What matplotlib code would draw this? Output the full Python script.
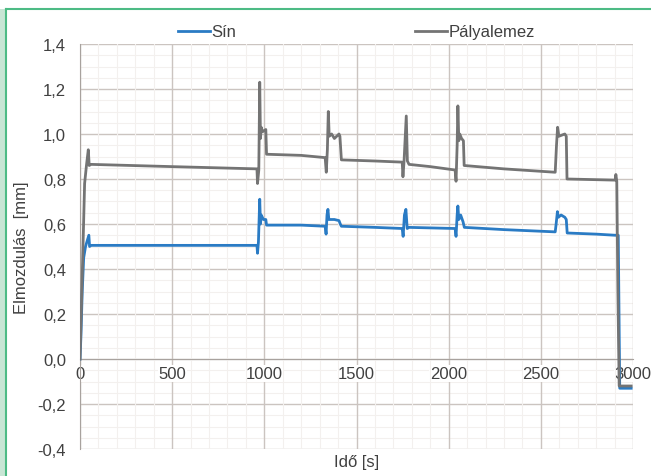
import matplotlib
matplotlib.use("Agg")
from matplotlib import pyplot as plt
from matplotlib.ticker import FuncFormatter, MultipleLocator
from matplotlib.patches import Rectangle
from matplotlib.lines import Line2D

plt.rcParams['font.family'] = ['Liberation Sans', 'DejaVu Sans']

# Pályalemez (gray)
t_palya = [0, 10, 25, 35, 45, 50, 60, 500, 960, 963, 970, 975, 979, 983, 990, 1008, 1012,
           1200, 1330, 1336, 1342, 1347, 1352, 1365, 1380, 1405, 1410, 1418, 1600, 1748, 1752,
           1758, 1770, 1776, 1785, 1900, 2035, 2040, 2046, 2050, 2055, 2060, 2070, 2080, 2084,
           2300, 2578, 2585, 2591, 2598, 2630, 2638, 2642, 2800, 2903, 2907, 2912, 2918, 2925, 2990]
y_palya = [0.0, 0.3, 0.78, 0.86, 0.93, 0.86, 0.865, 0.855, 0.845, 0.78, 0.84, 1.23, 0.98, 1.03, 1.01, 1.02, 0.91,
           0.905, 0.895, 0.83, 0.93, 1.10, 0.99, 1.0, 0.98, 1.0, 0.99, 0.885, 0.88, 0.875, 0.81,
           0.88, 1.08, 0.88, 0.865, 0.855, 0.84, 0.79, 0.95, 1.125, 0.97, 1.0, 0.98, 0.97, 0.86,
           0.845, 0.83, 0.95, 1.03, 0.99, 1.0, 0.99, 0.80, 0.797, 0.795, 0.82, 0.79, 0.3, -0.12, -0.12]

# Sín (blue)
t_sin = [0, 5, 12, 20, 30, 48, 52, 60, 960, 963, 968, 975, 979, 983, 995, 1008, 1012,
         1200, 1330, 1335, 1340, 1345, 1350, 1380, 1405, 1412, 1418, 1600, 1748, 1753,
         1760, 1768, 1775, 1785, 2035, 2040, 2046, 2050, 2055, 2065, 2078, 2085,
         2300, 2578, 2583, 2590, 2595, 2610, 2630, 2638, 2643, 2800, 2903, 2920, 2928, 2990]
y_sin = [0.0, 0.1, 0.3, 0.45, 0.5, 0.55, 0.5, 0.505, 0.505, 0.47, 0.52, 0.71, 0.6, 0.64, 0.62, 0.62, 0.595,
         0.595, 0.59, 0.555, 0.64, 0.665, 0.62, 0.62, 0.615, 0.6, 0.59, 0.585, 0.58, 0.545,
         0.64, 0.665, 0.58, 0.585, 0.58, 0.545, 0.64, 0.68, 0.62, 0.64, 0.61, 0.585,
         0.575, 0.565, 0.6, 0.655, 0.63, 0.64, 0.63, 0.62, 0.56, 0.555, 0.55, 0.55, -0.13, -0.13]

fs = 12
txt = '#404040'

fig = plt.figure(figsize=(6.51, 4.77), dpi=100)
ax = fig.add_axes([80/651, 1-450/477, 553/651, 405/477])

# green frame
fig.patches.append(Rectangle((0, 0), 5/651, 1-10/477, transform=fig.transFigure,
                             facecolor='#c8e6d5', edgecolor='none'))
fig.lines.append(Line2D([6/651, 6/651], [0, 1-10/477], transform=fig.transFigure,
                        color='#4dbb85', lw=1.5))
fig.lines.append(Line2D([6/651, 1], [1-10/477, 1-10/477], transform=fig.transFigure,
                        color='#4dbb85', lw=1.5))

ax.plot(t_sin, y_sin, color='#2a7bc4', lw=2, label='Sín', zorder=3)
ax.plot(t_palya, y_palya, color='#747474', lw=2, label='Pályalemez', zorder=3)

ax.set_xlim(0, 3000)
ax.set_ylim(-0.4, 1.4)
ax.xaxis.set_major_locator(MultipleLocator(500))
ax.yaxis.set_major_locator(MultipleLocator(0.2))
ax.xaxis.set_minor_locator(MultipleLocator(100))
ax.yaxis.set_minor_locator(MultipleLocator(0.05))
ax.yaxis.set_major_formatter(FuncFormatter(lambda v, p: f"{v:.1f}".replace('.', ',')))

ax.grid(True, which='major', color='#cbc4c0', lw=1)
ax.grid(True, which='minor', color='#f3f0ee', lw=0.8)
ax.set_axisbelow(True)
ax.yaxis.set_zorder(0.5)
ax.xaxis.set_zorder(0.6)

for s in ['top', 'right']:
    ax.spines[s].set_visible(False)
ax.spines['bottom'].set_position(('data', 0))
ax.spines['bottom'].set_color('#a8a29e')
ax.spines['left'].set_color('#a8a29e')
ax.tick_params(which='both', length=0, labelsize=fs, labelcolor=txt)
ax.tick_params(axis='y', pad=10)
ax.tick_params(axis='x', pad=5)
for lab in ax.get_xticklabels():
    lab.set_bbox(dict(facecolor='white', edgecolor='none', pad=0.5))

ax.set_xlabel('Idő [s]', fontsize=fs, color=txt)
ax.set_ylabel('Elmozdulás  [mm]', fontsize=fs, color=txt)
ax.xaxis.set_label_coords(0.5, -0.012)
ax.yaxis.set_label_coords(-0.092, 0.5)

ax.legend(loc='center', bbox_to_anchor=(0.5, 1.03), ncol=2, frameon=False,
          fontsize=fs, handlelength=1.9, handletextpad=0.1, columnspacing=10.7,
          labelcolor=txt)

fig.savefig('out.png', dpi=100)
